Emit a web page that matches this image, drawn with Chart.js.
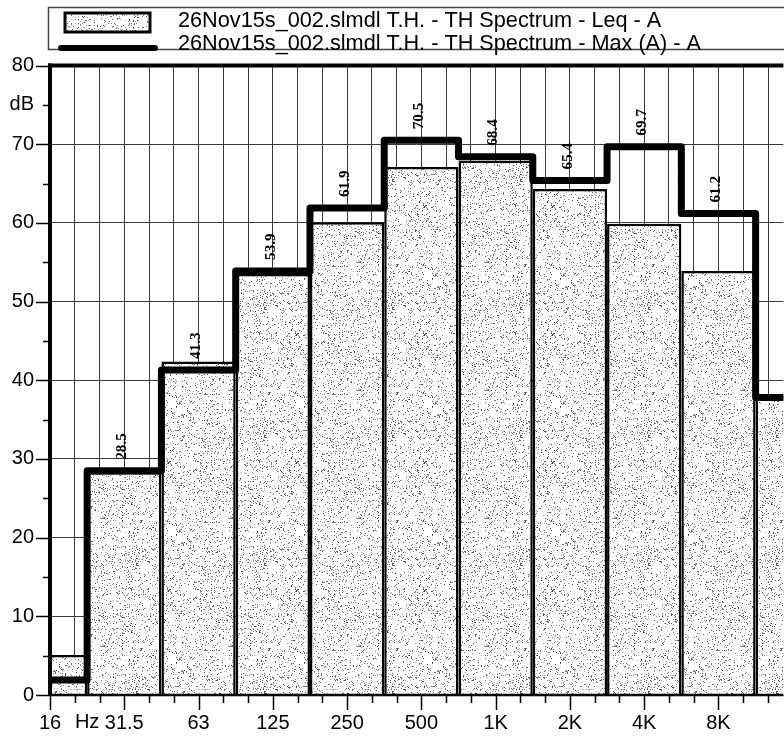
<!DOCTYPE html>
<html><head><meta charset="utf-8">
<script src="https://cdn.jsdelivr.net/npm/chart.js@4/dist/chart.umd.min.js"></script>
<style>html,body{margin:0;padding:0;background:#fff;overflow:hidden}canvas{display:block}</style>
</head><body>
<canvas id="c" width="784" height="736"></canvas>
<script>
// ---- data ----
const bandLabels = ['16','31.5','63','125','250','500','1K','2K','4K','8K','16K'];
const bandIndex  = [0,3,6,9,12,15,18,21,24,27,30]; // position in 1/3-octave steps from 16 Hz
const leqValues  = [5.1, 28.3, 42.4, 53.5, 60.1, 67.1, 67.9, 64.3, 59.9, 53.9, 38.0];
const maxValues  = [1.9, 28.5, 41.3, 53.9, 61.9, 70.5, 68.4, 65.4, 69.7, 61.2, 37.8];
const leqName = '26Nov15s_002.slmdl T.H. - TH Spectrum - Leq - A';
const maxName = '26Nov15s_002.slmdl T.H. - TH Spectrum - Max (A) - A';
const yMajorTicks = [0,10,20,30,40,50,60,70,80];
const yUnitLabel = 'dB', yUnitAt = 75;
const xUnitLabel = 'Hz';

const FONT = '"Liberation Sans", Arial, sans-serif';
Chart.defaults.font.family = FONT;
Chart.defaults.color = '#000';

function makeStipple(){
  const n=128, c=document.createElement('canvas'); c.width=c.height=n;
  const g=c.getContext('2d'); g.fillStyle='#fff'; g.fillRect(0,0,n,n);
  const img=g.getImageData(0,0,n,n); let s=987654321;
  for(let i=0;i<n*n;i++){
    s=(Math.imul(s,1103515245)+12345)>>>0;
    if((s>>>8)%1000 < 120){ const v=70+((s>>>3)%110); img.data[i*4]=img.data[i*4+1]=img.data[i*4+2]=v; }
  }
  g.putImageData(img,0,0);
  return g.createPattern(c,'repeat');
}
const stipple = makeStipple();

const decor = {
  id:'decor',
  afterDatasetsDraw(chart){
    const {ctx, chartArea:a, scales:{x,y}} = chart;
    // value labels above the Max line
    ctx.save();
    ctx.beginPath(); ctx.rect(a.left,a.top,a.right-a.left,a.bottom-a.top); ctx.clip();
    ctx.fillStyle='#000'; ctx.font='bold 14.5px "Liberation Serif", serif';
    ctx.textAlign='left'; ctx.textBaseline='middle';
    maxValues.forEach((v,i)=>{
      const px=x.getPixelForValue(bandIndex[i])-2, py=y.getPixelForValue(v)-11;
      ctx.save(); ctx.translate(px,py); ctx.rotate(-Math.PI/2); ctx.scale(1.05,1);
      ctx.fillText(v.toFixed(1),0,0); ctx.restore();
    });
    ctx.restore();
    // frame
    ctx.save(); ctx.strokeStyle='#000';
    ctx.lineWidth=4; ctx.beginPath(); ctx.moveTo(a.left,a.bottom+1); ctx.lineTo(a.left,a.top-2); ctx.stroke();
    ctx.beginPath(); ctx.moveTo(a.left-2,a.top); ctx.lineTo(a.right,a.top); ctx.stroke();
    ctx.lineWidth=2.5; ctx.beginPath(); ctx.moveTo(a.left,a.bottom); ctx.lineTo(a.right,a.bottom); ctx.stroke();
    // ticks
    ctx.lineWidth=1.5;
    for(let v=0; v<=80; v+=5){
      const py=Math.round(y.getPixelForValue(v))+0.5, len = v%10===0?14:7;
      ctx.beginPath(); ctx.moveTo(a.left-len,py); ctx.lineTo(a.left,py); ctx.stroke();
    }
    for(let t=0; t<x.ticks.length; t++){
      const v=x.ticks[t].value, px=Math.round(x.getPixelForValue(v))+0.5, len = bandIndex.includes(v)?15:8;
      ctx.beginPath(); ctx.moveTo(px,a.bottom); ctx.lineTo(px,a.bottom+len); ctx.stroke();
    }
    // unit label on x axis
    ctx.fillStyle='#000'; ctx.font='20px '+FONT; ctx.textAlign='center'; ctx.textBaseline='middle';
    ctx.fillText(xUnitLabel, x.getPixelForValue((bandIndex[0]+bandIndex[1])/2), 722);
    ctx.restore();
  },
  afterDraw(chart){
    const ctx=chart.ctx;
    const leqDs = chart.data.datasets.find(d=>d.type==='bar');
    const maxDs = chart.data.datasets.find(d=>d.type==='line');
    ctx.save();
    ctx.strokeStyle='#444'; ctx.lineWidth=1.5;
    ctx.strokeRect(48.5,7.5,760,42);
    ctx.fillStyle=stipple; ctx.fillRect(65,13,85,19);
    ctx.strokeStyle='#000'; ctx.lineWidth=3; ctx.strokeRect(65,13,85,19);
    ctx.lineWidth=6; ctx.lineCap='round'; ctx.beginPath(); ctx.moveTo(61,48); ctx.lineTo(155,48); ctx.stroke();
    ctx.fillStyle='#000'; ctx.font='21.7px '+FONT; ctx.textAlign='left'; ctx.textBaseline='middle';
    ctx.fillText(leqDs.label,178,21);
    ctx.fillText(maxDs.label,178,44);
    ctx.restore();
  }
};

new Chart(document.getElementById('c'), {
  type:'bar',
  data:{ datasets:[
    { type:'line', label:maxName, data:bandIndex.map((b,i)=>({x:b,y:maxValues[i]})),
      borderColor:'#000', borderWidth:7, stepped:'middle', pointRadius:0, fill:false,
      borderJoinStyle:'round', clip:0, order:1 },
    { type:'bar', label:leqName, data:bandIndex.map((b,i)=>({x:b,y:leqValues[i]})),
      backgroundColor:stipple, borderColor:'#000', borderWidth:2.5,
      barPercentage:3, categoryPercentage:1, clip:0, order:2 }
  ]},
  options:{
    responsive:false, animation:false,
    layout:{ padding:{ top:65.6, left:0, right:0, bottom:0 } },
    plugins:{ legend:{display:false}, tooltip:{enabled:false} },
    scales:{
      x:{ type:'linear', min:0, max:29.62, offset:false,
          grid:{ offset:false, color:'#3a3a3a', lineWidth:1, drawTicks:false },
          border:{ display:false },
          afterBuildTicks:s=>{ const t=[]; for(let v=0; v<=29; v++) t.push({value:v}); s.ticks=t; },
          afterFit:s=>{ s.height=41; },
          ticks:{ autoSkip:false, maxRotation:0, padding:16, font:{size:20}, color:'#000',
                  callback:v=>{ const k=bandIndex.indexOf(v); return k>=0?bandLabels[k]:''; } } },
      y:{ min:0, max:80,
          grid:{ color:c=>(c.tick && yMajorTicks.includes(c.tick.value))?'#3a3a3a':'rgba(0,0,0,0)', lineWidth:1, drawTicks:false },
          border:{ display:false },
          afterFit:s=>{ s.width=50; },
          ticks:{ stepSize:5, autoSkip:false, padding:16, font:{size:20}, color:'#000',
                  callback:v=> yMajorTicks.includes(v)?String(v):(v===yUnitAt?yUnitLabel:'') } }
    }
  },
  plugins:[decor]
});
</script>
</body></html>
